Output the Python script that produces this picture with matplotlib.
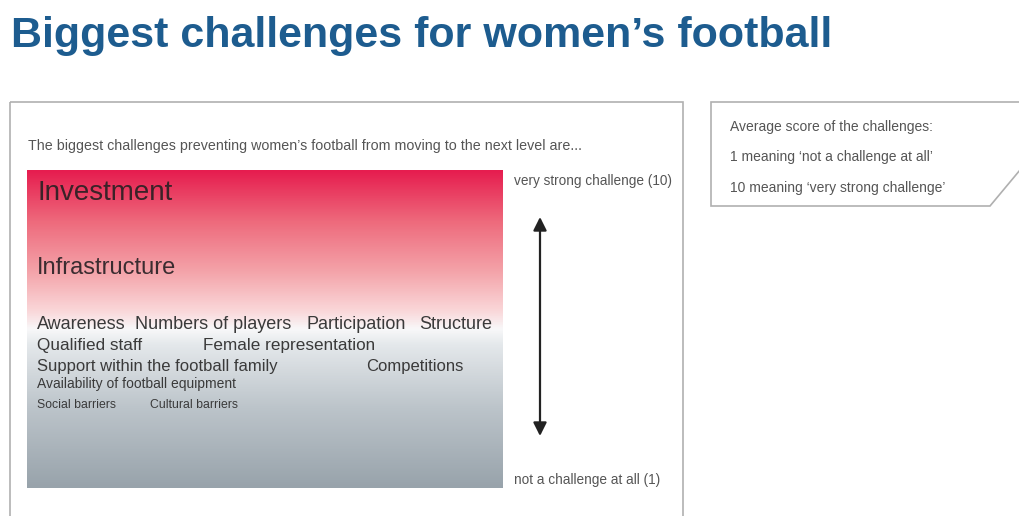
import numpy as np
import matplotlib
matplotlib.use('Agg')
from matplotlib import pyplot as plt
from matplotlib.colors import LinearSegmentedColormap
from matplotlib.patches import Rectangle

plt.rcParams['font.family'] = ['Liberation Sans', 'DejaVu Sans']

# Challenges and their average score (1 = not a challenge, 10 = very strong)
challenges = ['Investment', 'Infrastructure',
              'Awareness', 'Numbers of players', 'Participation', 'Structure',
              'Qualified staff', 'Female representation',
              'Support within the football family', 'Competitions',
              'Availability of football equipment',
              'Social barriers', 'Cultural barriers']
scores = [9.35, 7.22, 5.62, 5.62, 5.62, 5.62, 5.02, 5.02, 4.45, 4.45, 3.95, 3.35, 3.35]

title = 'Biggest challenges for women\u2019s football'
subtitle = 'The biggest challenges preventing women\u2019s football from moving to the next level are...'
top_label = 'very strong challenge (10)'
bottom_label = 'not a challenge at all (1)'
note_lines = ['Average score of the challenges:',
              '1 meaning \u2018not a challenge at all\u2019',
              '10 meaning \u2018very strong challenge\u2019']

W, H = 1020, 516
fig = plt.figure(figsize=(W / 100, H / 100), dpi=100)
fig.patch.set_facecolor('white')

# background axes in pixel coordinates
bg = fig.add_axes([0, 0, 1, 1])
bg.set_xlim(0, W)
bg.set_ylim(H, 0)
bg.axis('off')

bg.text(11, 47, title, fontsize=31, fontweight='bold', color='#1d5c8f',
        va='baseline', ha='left')

bg.add_patch(Rectangle((10, 102), 673, 500, fill=False, ec='#b0b0b0', lw=1.2))
bg.text(28, 146, subtitle, fontsize=10.3, color='#555555', va='center')

bg.text(514, 181, top_label, fontsize=9.8, color='#555555', va='center')
bg.text(514, 480, bottom_label, fontsize=9.8, color='#555555', va='center')
bg.annotate('', xy=(540, 217), xytext=(540, 436),
            arrowprops=dict(arrowstyle='<|-|>', color='#222222', lw=1.6,
                            mutation_scale=20, shrinkA=0, shrinkB=0))

# note box with the cut corner
bg.plot([1040, 711, 711, 990, 1040], [102, 102, 206, 206, 146],
        color='#b0b0b0', lw=1.2, solid_joinstyle='miter')
for i, line in enumerate(note_lines):
    bg.text(730, 127 + i * 30.5, line, fontsize=10, color='#555555', va='center')

# gradient panel, y axis is the score
ax = fig.add_axes([27 / W, 1 - 488 / H, 476 / W, 318 / H])
cmap = LinearSegmentedColormap.from_list('challenge', [
    (0.0, '#98a3ab'), (0.25, '#bcc4ca'), (0.45, '#e4e8eb'), (0.5, '#f8f8f9'),
    (0.555, '#fad8da'), (0.68, '#f4a4aa'), (0.84, '#ee6a7c'), (1.0, '#e61d4f')])
grad = np.linspace(0, 1, 400).reshape(-1, 1)
ax.imshow(grad, cmap=cmap, origin='lower', aspect='auto', extent=[0, 1, 1, 10])
ax.set_xlim(0, 1)
ax.set_ylim(1, 10)
ax.axis('off')

x_px = [37, 37, 37, 135, 307, 419, 37, 203, 37, 366, 37, 37, 150]
sizes = [20, 17, 13, 13, 13, 13, 12.3, 12.3, 12, 12, 10, 8.8, 8.8]
colors = ['#3a2228', '#3a2c30'] + ['#3a3a3a'] * 11
for name, s, x, fs, c in zip(challenges, scores, x_px, sizes, colors):
    ax.text((x - 27) / 476, s, name, fontsize=fs, color=c,
            va='center', ha='left')

fig.savefig('out.png', dpi=100)
